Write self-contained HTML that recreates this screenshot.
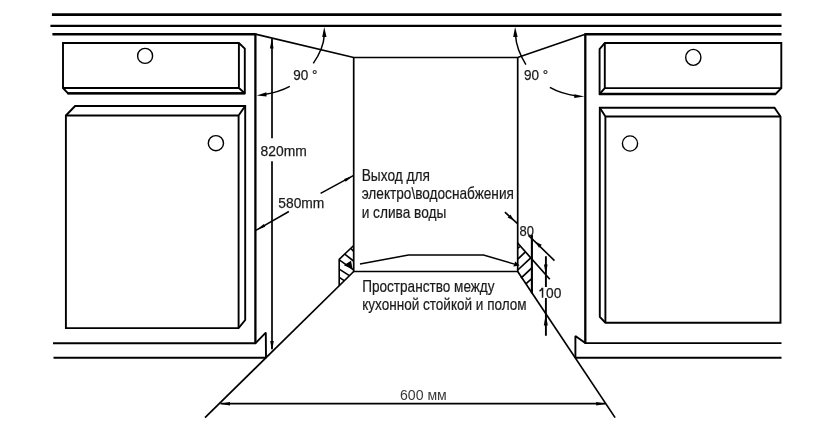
<!DOCTYPE html>
<html><head><meta charset="utf-8">
<style>
html,body{margin:0;padding:0;background:#fff;}
body{width:814px;height:427px;overflow:hidden;font-family:"Liberation Sans",sans-serif;}
svg{display:block;filter:grayscale(1);}
text{font-family:"Liberation Sans",sans-serif;fill:#1a1a1a;}
.k{stroke:#000;fill:none;stroke-linecap:butt;stroke-linejoin:miter;}
.f{fill:#000;stroke:none;}
</style></head><body>
<svg width="814" height="427" viewBox="0 0 814 427">
<rect width="814" height="427" fill="#fff"/>

<!-- countertop lines -->
<g class="k" stroke-linecap="round">
<line x1="51.9" y1="14.65" x2="781.5" y2="14.65" stroke-width="2.9"/>
<line x1="50.4" y1="25.85" x2="781.5" y2="25.85" stroke-width="2.4"/>
<line x1="52.4" y1="34.3" x2="255.4" y2="34.3" stroke-width="2.5"/>
<line x1="585.3" y1="34.3" x2="781.5" y2="34.3" stroke-width="2.5"/>
</g>

<!-- cabinet walls and plinth -->
<g class="k" stroke-width="2.3">
<path d="M255.4 33.2 V343.6"/>
<path d="M585.3 33.2 V343.6"/>
</g>
<g class="k" stroke-width="1.9" style="stroke-linejoin:bevel">
<path d="M256 343.3 H53"/>
<path d="M255.6 343.2 L265.8 332.6 L266 357.8 H53.5"/>
<path d="M584.8 343.1 H781.5"/>
<path d="M585.3 343.1 L575.4 335.9 V357.8 H781.5"/>
</g>

<!-- opening -->
<g class="k" stroke-width="1.7">
<path d="M255.4 34.2 L353.7 57.5 H517.7 L585.3 34.2"/>
<path d="M353.7 57.5 V271.5 H517.7 V57.5"/>
<path d="M353.7 271.5 L205 417.6"/>
<path d="M517.7 271.5 L615.1 417.6" stroke-width="1.7"/>
</g>

<!-- left drawer -->
<g class="k" stroke-width="1.9">
<path d="M63 43 H238.9 L244.8 48.6 V93.3 H68 L63 88 Z"/>
<path d="M63 88 H238.9 V43 M238.9 88 L244.8 93.3"/>
<circle cx="145.1" cy="55.9" r="7.5" stroke-width="1.4"/>
<path d="M67.4 93.3 H245" stroke-width="2.3"/>
</g>
<!-- left door -->
<g class="k" stroke-width="1.9">
<path d="M65.9 115.5 L75.1 106 H245.2 V320 L238.6 328.1 H65.9 Z"/>
<path d="M65.9 115.5 H238.6 V328.1 M238.6 115.5 L245.2 106"/>
<circle cx="215.9" cy="143.2" r="7.6" stroke-width="1.4"/>
</g>

<!-- right drawer -->
<g class="k" stroke-width="1.9">
<path d="M604.8 43 H781.3 V88.1 L775.6 94 H599.6 V49.2 Z"/>
<path d="M604.8 43 V88.1 H781.3 M604.8 88.1 L599.6 94"/>
<ellipse cx="693.3" cy="57.4" rx="7.6" ry="8" stroke-width="1.4"/>
<path d="M599.2 94 H775.8" stroke-width="2.3"/>
</g>
<!-- right door -->
<g class="k" stroke-width="1.9">
<path d="M599.8 107.8 H774.5 L780.5 116.5 V322.7 H605.4 L599.8 316.8 Z"/>
<path d="M780.5 116.5 H605.4 V322.7 M605.4 116.5 L599.8 107.8"/>
<circle cx="630" cy="143.5" r="7.6" stroke-width="1.4"/>
</g>

<!-- 90 deg arcs -->
<g class="k" stroke-width="1.5">
<path d="M313.3 63.4 Q323.6 48.5 324.3 35"/>
<path d="M289.8 86.4 Q279.5 92 264 94.6"/>
<path d="M525.9 64.6 Q516.2 49 515.5 35"/>
<path d="M549.9 87.4 Q561 93.8 577 96"/>
</g>
<g class="f">
<path d="M324.2 27 L326.5 37 L322.2 37 Z"/>
<path d="M256.8 95.4 L266.3 92.3 L266.6 96.6 Z"/>
<path d="M515.1 27 L517.6 37 L513.2 37 Z"/>
<path d="M584.4 96.5 L574.2 98 L574.4 94.2 Z"/>
</g>

<!-- 820 dimension -->
<g class="k" stroke-width="1.7">
<line x1="272" y1="39" x2="272" y2="138.3"/>
<line x1="272" y1="161.2" x2="272" y2="349"/>
</g>
<g class="f">
<path d="M272 38 L273.5 48.4 H269.9 Z"/>
<path d="M272 351 L273.8 341 H270.2 Z"/>
</g>

<!-- 580 leaders -->
<g class="k" stroke-width="1.5">
<line x1="320.6" y1="193.4" x2="353.7" y2="175.4"/>
<line x1="288.9" y1="211.5" x2="255.9" y2="230.3"/>
</g>
<g class="f">
<path d="M352.8 175.9 L345.6 181.8 L344.1 179 Z"/>
<path d="M256.6 229.9 L263.8 224 L265.3 226.8 Z"/>
</g>

<!-- 600 dimension -->
<g class="k" stroke-width="1.7">
<line x1="220.6" y1="403.7" x2="605.6" y2="403.7"/>
</g>
<g class="f">
<path d="M219.8 403.7 L230 402 V405.4 Z"/>
<path d="M606.3 403.7 L596.2 402 V405.4 Z"/>
</g>

<!-- left hatch -->
<g class="k" stroke-width="1.6">
<path d="M353.7 245.5 L339.2 259.3 V285.4"/>
<path d="M351 248.6 L353.5 251.3"/>
<path d="M344.8 254.2 L353.5 261"/>
<path d="M339.6 260.2 L353.5 269.8"/>
<path d="M339.6 269.4 L349 275.4"/>
<path d="M339.6 277.6 L344.2 280.6"/>
</g>
<path class="f" d="M343.8 265.2 L351 260.8 L352.6 268.9 Z"/>

<!-- leader for bottom text -->
<g class="k" stroke-width="1.5">
<path d="M360 263.9 L408.5 255 H483.5 L514.5 264.1"/>
</g>
<path class="f" d="M519.7 265.5 L513.3 266.6 L515.3 261.5 Z"/>

<!-- right hatch -->
<g class="k" stroke-width="1.7">
<path d="M517.4 242.8 L549.8 279.2"/>
<path d="M531.9 234.8 V293.5" stroke-width="2.1"/>
<path d="M517.5 248.4 L519.8 246.6"/>
<path d="M517.8 259.2 L525.1 252.2"/>
<path d="M517.8 270 L531.3 257.3"/>
<path d="M521 278.2 L531.6 268.2"/>
<path d="M525.8 283.9 L531.8 278.7"/>
</g>

<!-- 80 dimension -->
<g class="k" stroke-width="1.6">
<path d="M504.9 212.2 L517.5 223.6"/>
<path d="M528.5 235.4 L554.5 260.6"/>
</g>
<g class="f">
<path d="M514 220.6 L507.6 217.6 L510.4 214.6 Z"/>
<path d="M535.4 241.8 L541.8 244.8 L539 247.8 Z"/>
</g>

<!-- 100 dimension -->
<g class="k" stroke-width="1.9">
<path d="M545.9 256.2 V287 M545.9 298 V335.7"/>
</g>
<g class="f">
<path d="M545.8 274.8 L544 264.6 H547.6 Z"/>
<path d="M545.8 314 L543.8 325.6 H547.8 Z"/>
</g>

<!-- labels -->
<g font-size="15.4" stroke="#1a1a1a" stroke-width="0.25">
<text x="293.2" y="79.7" textLength="24.2" lengthAdjust="spacingAndGlyphs">90 °</text>
<text x="524" y="80.2" textLength="24.2" lengthAdjust="spacingAndGlyphs">90 °</text>
</g>
<g font-size="15.5" stroke="#1a1a1a" stroke-width="0.25">
<text x="260.6" y="155.8" textLength="46.2" lengthAdjust="spacingAndGlyphs">820mm</text>
<text x="278.3" y="208.3" textLength="46" lengthAdjust="spacingAndGlyphs">580mm</text>
<text x="519.6" y="235.8" textLength="14.4" lengthAdjust="spacingAndGlyphs">80</text>
<text x="546.1" y="297.8" textLength="15.3" lengthAdjust="spacingAndGlyphs">00</text>
<path d="M542.55 287.7 V297.8 M539.5 291 Q541.6 289.8 542.3 287.9" fill="none" stroke-width="1.5"/>
</g>
<text x="400" y="400.2" font-size="15.1" textLength="46.8" lengthAdjust="spacingAndGlyphs" style="fill:#3a3a3a">600 мм</text>

<g font-size="15.7" stroke="#1a1a1a" stroke-width="0.2">
<text x="361.7" y="180.5" textLength="68.3" lengthAdjust="spacingAndGlyphs">Выход для</text>
<text x="361.7" y="199.4" textLength="152.2" lengthAdjust="spacingAndGlyphs">электро\водоснабжения</text>
<text x="361.7" y="217.9" textLength="84.6" lengthAdjust="spacingAndGlyphs">и слива воды</text>
<text x="362.2" y="291.7" textLength="132.4" lengthAdjust="spacingAndGlyphs">Пространство между</text>
<text x="362.2" y="310.2" textLength="164.4" lengthAdjust="spacingAndGlyphs">кухонной стойкой и полом</text>
</g>
</svg>
</body></html>
